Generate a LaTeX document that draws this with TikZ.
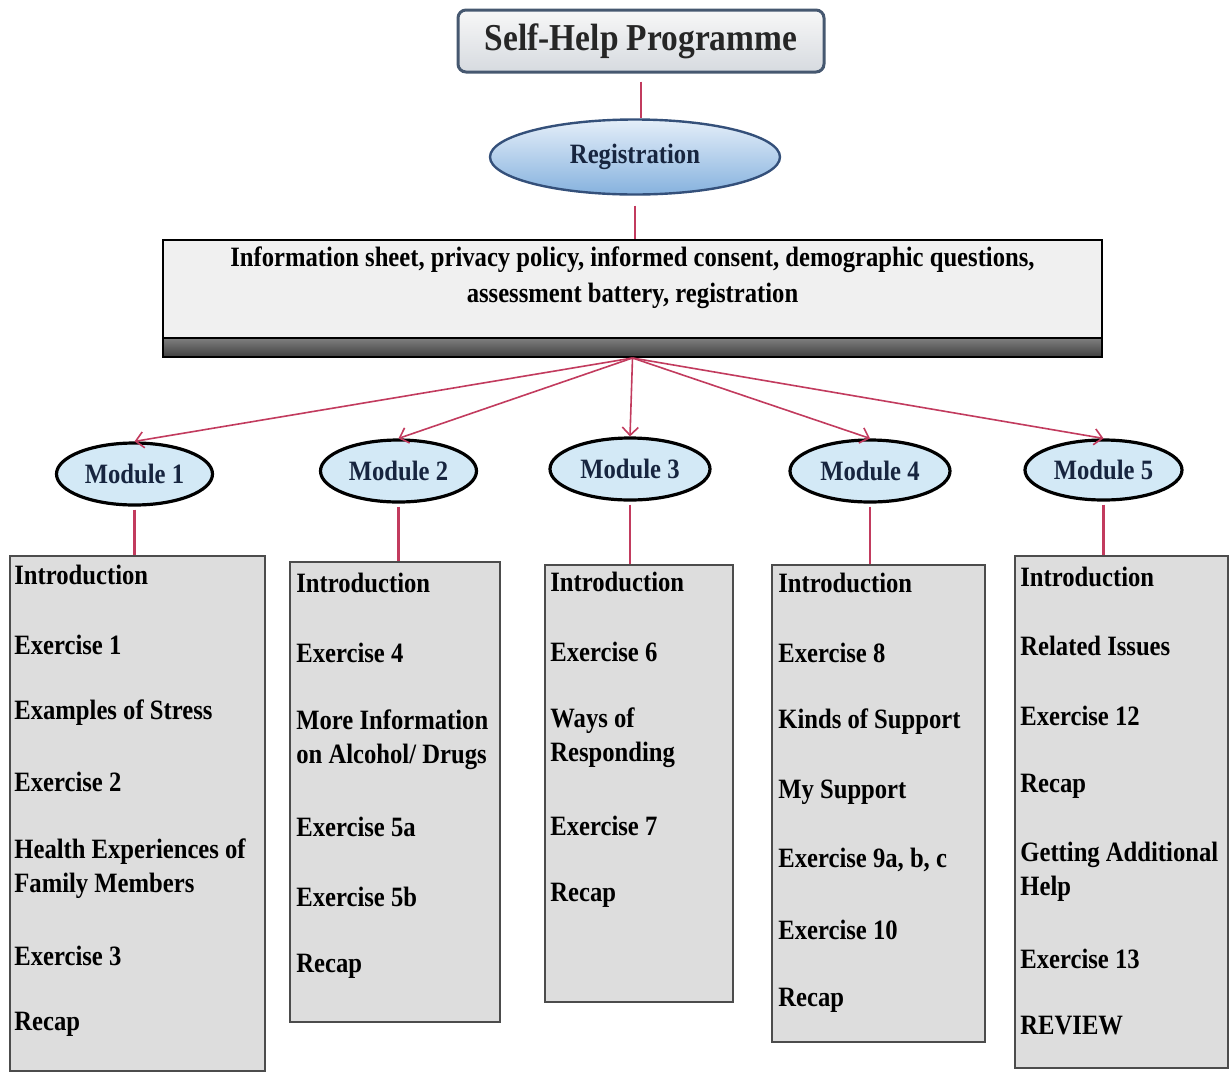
\documentclass[tikz,border=0pt]{standalone}
\usepackage{fontspec}
\setmainfont{Liberation Serif}[FakeStretch=0.88]
\usepackage{tikz}
\usetikzlibrary{shapes.geometric}
\usetikzlibrary{arrows.meta}
\usetikzlibrary{positioning}
\definecolor{linkred}{HTML}{C23B5E}
\definecolor{navy}{HTML}{17253F}
\definecolor{boxgray}{HTML}{DDDDDD}
\definecolor{modblue}{HTML}{D3E9F6}
\definecolor{regtop}{HTML}{E4EEF9}
\definecolor{regbottom}{HTML}{86B2DE}
\definecolor{regedge}{HTML}{34507A}
\definecolor{titleedge}{HTML}{465870}

\begin{document}
\begin{tikzpicture}[x=0.5pt,y=-0.5pt,
  link/.style={linkred,line width=1.4pt},
  arr/.style={linkred,line width=0.8pt,-{Straight Barb[length=4pt,width=8pt]}},
  module/.style={ellipse,draw=black,line width=1.6pt,fill=modblue,inner sep=0pt,
    minimum width=78pt,minimum height=31pt,text=navy,font=\fontsize{14}{16}\selectfont\bfseries},
  listbox/.style={draw=black!70,line width=0.6pt,fill=boxgray,inner sep=0pt},
  item/.style={anchor=west,align=left,inner sep=0pt,font=\fontsize{14}{17}\selectfont\bfseries}]
  \fill[white] (0,0) rectangle (1232,1072);
  \useasboundingbox (0,0) rectangle (1232,1072);

  \node[rounded corners=4pt,draw=titleedge,line width=1.5pt,top color=black!3,bottom color=titleedge!22,
    minimum width=183pt,minimum height=31pt,font=\fontsize{19}{22}\selectfont\bfseries,text=black!85] (title) at (641,41) {Self-Help Programme};
  \node[ellipse,draw=regedge,line width=1.2pt,top color=regtop,bottom color=regbottom,inner sep=0pt,
    minimum width=145pt,minimum height=37.5pt,text=navy,font=\fontsize{14}{16}\selectfont\bfseries] (reg) at (635,157) {Registration};
  \node[draw=black,line width=1pt,fill=black!6,minimum width=469.5pt,minimum height=49pt] (info) at (632.5,289) {};
  \node[align=center,font=\fontsize{14}{18}\selectfont\bfseries] (infotext) at (632.5,278)
    {Information sheet, privacy policy, informed consent, demographic questions,\\assessment battery, registration};
  \node[draw=black,line width=1pt,top color=black!50,bottom color=black!75,minimum width=469.5pt,minimum height=9.5pt,inner sep=0pt] (bar) at (632.5,347.5) {};

  \draw[link] ([yshift=-4pt]title.south) -- (title.south |- reg.north);
  \draw[link] ([yshift=-5pt]reg.south) -- (reg.south |- info.north);

  \node[module] (m1) at (134.5,474) {Module 1};
  \node[module] (m2) at (398.5,471) {Module 2};
  \node[module,minimum width=80pt] (m3) at (630,469) {Module 3};
  \node[module,minimum width=80pt] (m4) at (870,471) {Module 4};
  \node[module,minimum width=78.5pt,minimum height=30pt] (m5) at (1103.5,470) {Module 5};
  \foreach \m in {1,...,5}
    \draw[arr] (bar.south) -- (m\m.north);

  \node[listbox,minimum width=127.5pt,minimum height=257.5pt] (b1) at (137.5,813.5) {};
  \node[listbox,minimum width=105pt,minimum height=230pt] (b2) at (395,792) {};
  \node[listbox,minimum width=94pt,minimum height=218.5pt] (b3) at (639,783.5) {};
  \node[listbox,minimum width=106.5pt,minimum height=238.5pt] (b4) at (878.5,803.5) {};
  \node[listbox,minimum width=106.5pt,minimum height=256pt] (b5) at (1121.5,812) {};
  \foreach \m in {1,...,5}
    \draw[link] ([yshift=-1.5pt]m\m.south) -- (m\m.south |- b\m.north);

  \foreach \t/\y [count=\i] in {Introduction/575, Exercise 1/645, Examples of Stress/713, Exercise 2/782,
      {Health Experiences of\\Family Members}/869, Exercise 3/956, Recap/1024}
    \node[item] (b1t\i) at (14,\y) {\t};
  \foreach \t/\y [count=\i] in {Introduction/583, Exercise 4/653, {More Information\\on Alcohol/ Drugs}/739.5,
      Exercise 5a/827, Exercise 5b/897, Recap/966}
    \node[item] (b2t\i) at (296,\y) {\t};
  \foreach \t/\y [count=\i] in {Introduction/582, Exercise 6/652, {Ways of\\Responding}/738, Exercise 7/826, Recap/895}
    \node[item] (b3t\i) at (550,\y) {\t};
  \foreach \t/\y [count=\i] in {Introduction/583, Exercise 8/653, Kinds of Support/722, My Support/792,
      {Exercise 9a, b, c}/860, Exercise 10/930, Recap/1000}
    \node[item] (b4t\i) at (778,\y) {\t};
  \foreach \t/\y [count=\i] in {Introduction/577, Related Issues/646, Exercise 12/716, Recap/786,
      {Getting Additional\\Help}/872, Exercise 13/959, REVIEW/1026}
    \node[item] (b5t\i) at (1020,\y) {\t};
\end{tikzpicture}
\end{document}
